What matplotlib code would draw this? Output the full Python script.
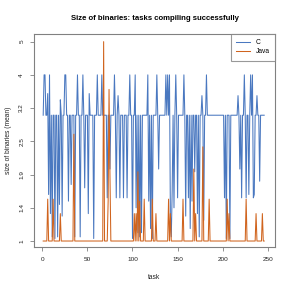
import numpy as np
import matplotlib
matplotlib.use("Agg")
import matplotlib.pyplot as plt

B = 3.05
c_values = [
    B, 4, 4, B, B, 3.55, 1.6, 4, 1.33, B,
    1.05, B, B, 1.03, B, B, 1.05, B, 1.45, 3.4,
    B, 1.3, B, B, 4, 4, B, B, 1.5, B,
    B, 1.75, B, B, B, 1.05, B, B, 4, B,
    B, 1.05, B, B, 4, B, 1.7, B, B, B,
    1.33, 3.55, B, B, B, B, 1.03, B, B, B,
    4, B, B, B, B, 4, B, B, B, B,
    B, 1.55, B, B, 2.0, B, B, B, B, 4,
    B, 1.55, B, 3.5, B, 1.55, B, B, B, 1.55,
    B, B, B, 1.55, B, B, 4, B, B, 1.03,
    B, B, 4, 1.4, B, 1.1, B, 1.05, B, 1.1,
    B, B, B, B, B, B, 4, 1.5, B, 1.15,
    B, 1.03, B, B, B, B, 4, B, 2.0, B,
    B, B, B, B, B, B, 4, B, 4, B,
    4, 1.33, 1.05, 1.65, B, 1.4, B, 4, B, 1.55,
    B, B, B, B, B, B, 4, B, 1.3, B,
    B, 1.55, B, 1.15, B, 1.5, B, B, 1.95, B,
    B, 1.33, B, 1.05, B, B, 3.5, B, 1.25, B,
    B, 4, B, B, B, B, B, B, B, B,
    B, B, B, B, B, B, B, B, B, B,
    B, 1.55, B, 1.03, B, B, B, 1.03, B, B,
    B, B, B, B, B, B, 3.5, B, 2.0, B,
    1.55, B, B, 4, B, 1.55, B, B, 1.6, B,
    4, B, 4, 1.55, 1.6, B, B, 3.5, B, B,
    1.8, B, B, B, B, B,
]

java_values = [
    1, 1, 1, 1, 1, 1.53, 1, 1, 1, 1,
    1, 1.53, 1, 1, 1, 1, 1, 1, 1, 1.33,
    1, 1, 1, 1, 1, 1, 1, 1, 1, 1,
    1, 1, 1, 1, 2.65, 1, 1, 1, 1, 1,
    1, 1, 1, 1, 1, 1, 1, 1, 1, 1,
    1, 1, 1, 1, 1, 1, 1, 1, 1, 1,
    1, 1, 1, 1, 1, 1, 1, 5, 1, 1,
    1, 1, 1.5, 3.65, 1.9, 1, 1, 1, 1, 1,
    1, 1, 1, 1, 1, 1, 1, 1, 1, 1,
    1, 1, 1, 1, 1, 1, 1, 1, 1, 1,
    1, 1.33, 1, 1.33, 1, 1.95, 1, 1.5, 1, 1,
    1, 1, 1.53, 1, 1, 1, 1, 1, 1, 1,
    1, 1.53, 1, 1, 1, 1.33, 1, 1, 1, 1,
    1, 1, 1, 1, 1, 1, 1, 1, 1, 1.53,
    1, 1.33, 1, 1, 1, 1, 1, 1, 1, 1,
    1, 1, 1, 1, 1, 1.53, 1, 1, 1, 1,
    1, 1, 1, 1, 1, 1, 1, 2.0, 1, 1.33,
    1, 1, 1, 1, 1, 1, 1, 2.4, 1, 1,
    1, 1, 1, 1, 1.53, 1, 1, 1, 1, 1,
    1, 1, 1, 1, 1, 1, 1, 1, 1, 1,
    1, 1, 1, 1, 1.53, 1, 1.33, 1, 1, 1,
    1, 1, 1, 1, 1, 1, 1, 1, 1, 1,
    1, 1, 1, 1, 1, 1.53, 1, 1, 1, 1,
    1, 1, 1, 1, 1, 1, 1.33, 1, 1, 1,
    1, 1, 1, 1.33, 1, 1,
]

tasks = np.arange(1, len(c_values) + 1)
y_ticks = [1, 1.4, 1.9, 2.5, 3.2, 4, 5]
x_ticks = [0, 50, 100, 150, 200, 250]

tv = np.array(y_ticks, float)
ti = np.arange(len(tv), dtype=float)

def fwd(v):
    v = np.asarray(v, float)
    out = np.interp(v, tv, ti)
    lo = (v - tv[0]) / (tv[1] - tv[0])
    hi = ti[-1] + (v - tv[-1]) / (tv[-1] - tv[-2])
    return np.where(v < tv[0], lo, np.where(v > tv[-1], hi, out))

def inv(p):
    p = np.asarray(p, float)
    out = np.interp(p, ti, tv)
    lo = tv[0] + p * (tv[1] - tv[0])
    hi = tv[-1] + (p - ti[-1]) * (tv[-1] - tv[-2])
    return np.where(p < 0, lo, np.where(p > ti[-1], hi, out))

plt.rcParams['font.family'] = ['Liberation Sans', 'DejaVu Sans']

fig = plt.figure(figsize=(2.91, 2.91), dpi=100)
ax = fig.add_axes([34/291, 44/291, 241/291, 213/291])
ax.set_yscale('function', functions=(fwd, inv))

c_col = '#4A78C0'
j_col = '#D0641E'
ax.plot(tasks, c_values, color=c_col, lw=0.75, label='C')
ax.plot(tasks, java_values, color=j_col, lw=0.75, label='Java')

ax.set_xlim(-9.2, 258)
ax.set_ylim(0.928, 5.23)
ax.set_xticks(x_ticks)
ax.set_yticks(y_ticks)
ax.set_yticklabels([str(t) for t in y_ticks], rotation=90, va='center')
ax.minorticks_off()

gray = '#808080'
for s in ax.spines.values():
    s.set_color(gray)
    s.set_linewidth(0.8)
ax.tick_params(axis='both', colors=gray, labelcolor='#222222', labelsize=4.6,
               length=3, width=0.6, pad=4)

ax.set_xlabel('task', fontsize=4.8, color='#222222', labelpad=9)
ax.set_ylabel('size of binaries (mean)', fontsize=4.8, color='#222222', labelpad=5)
ax.set_title('Size of binaries: tasks compiling successfully', fontsize=5.6,
             fontweight='bold', pad=10)

leg = ax.legend(loc='upper right', borderaxespad=0, fancybox=False,
                edgecolor=gray, fontsize=4.8, handlelength=2.1, handletextpad=0.8,
                borderpad=0.8, labelspacing=0.3)
leg.get_frame().set_linewidth(0.8)

fig.savefig('out.png', dpi=100)
